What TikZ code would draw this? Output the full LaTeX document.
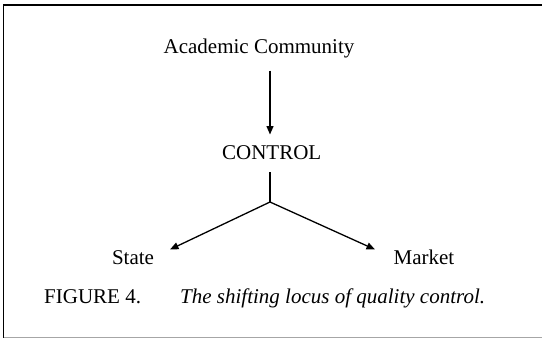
\documentclass[tikz,border=0pt]{standalone}
\usepackage{fontspec}
\setmainfont{Liberation Serif}
\usetikzlibrary{arrows.meta}
\begin{document}
\begin{tikzpicture}[x=1pt,y=-1pt,
  lbl/.style={font=\fontsize{21}{25}\selectfont, inner sep=0pt, anchor=base},
  captext/.style={font=\fontsize{21}{25}\selectfont, inner sep=0pt, anchor=base west},
  conn/.style={line width=1.3pt, -{Triangle[length=8.5pt,width=7pt]}},
  stem/.style={line width=1.3pt}]
\useasboundingbox (0,0) rectangle (542,338);
% open frame: top, left and a faint bottom rule
\draw[line width=1.2pt] (548,5) -- (3.5,5) -- (3.5,337.5);
\draw[line width=1pt, black!35] (3.5,337.5) -- (548,337.5);

% labels
\node[lbl] (ac)  at (259,53.5)  {Academic Community};
\node[lbl] (ctl) at (271.7,159.5) {CONTROL};
\node[lbl] (st)  at (133,264)  {State};
\node[lbl] (mk)  at (424,264)  {Market};
\node[captext] (fig) at (44,303)   {FIGURE 4.};
\node[captext] (ttl) at (180,303)  {\itshape The shifting locus of quality control.};

% connector end points
\coordinate (acout) at (270,70.5);
\coordinate (ctlin) at (270,134.5);
\coordinate (ctlout) at (270,172);
\coordinate (split) at (270,202);
\coordinate (stin) at (170,249.5);
\coordinate (mkin) at (375,249.5);

\draw[conn] (acout) -- (ctlin);
\draw[stem] (ctlout) -- (split);
\draw[conn] (split) -- (stin);
\draw[conn] (split) -- (mkin);
\end{tikzpicture}
\end{document}
